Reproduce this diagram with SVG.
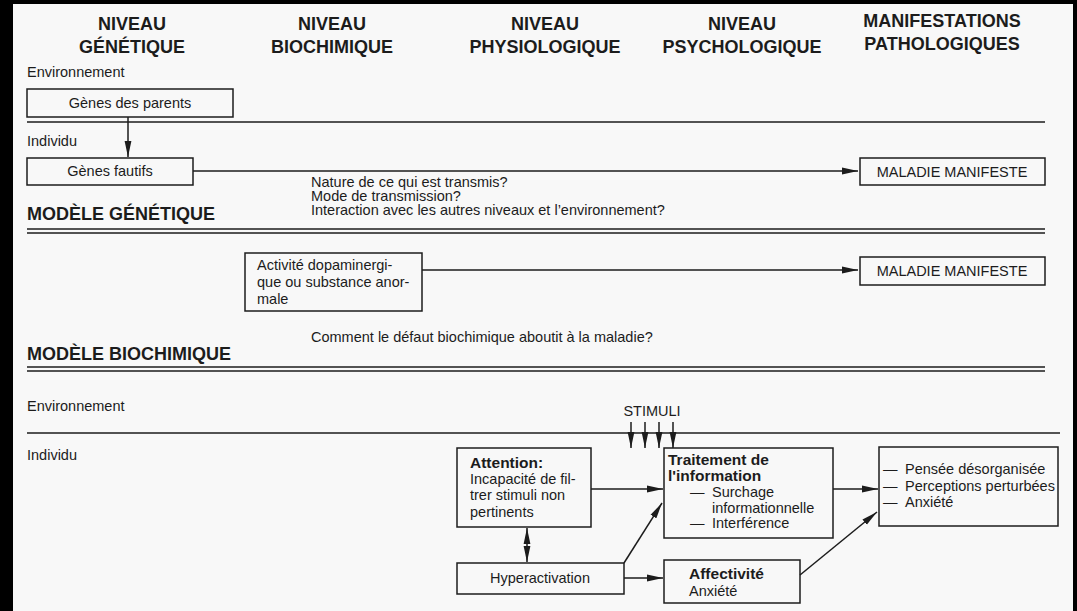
<svg xmlns="http://www.w3.org/2000/svg" width="1077" height="611" viewBox="0 0 1077 611">
  <defs>
    <marker id="ah" markerWidth="16" markerHeight="8" refX="16" refY="4" orient="auto-start-reverse" markerUnits="userSpaceOnUse">
      <path d="M0,0.6 L16,4 L0,7.4 z" fill="#1c1c1c"/>
    </marker>
  </defs>
  <style>
    .t{font-family:"Liberation Sans",Arial,Helvetica,sans-serif;font-size:14.5px;fill:#1c1c1c}
    .b{font-weight:bold;font-size:15.5px}
    .h{font-family:"Liberation Sans",Arial,Helvetica,sans-serif;font-size:18px;font-weight:bold;fill:#1c1c1c;text-anchor:middle}
    .m{font-family:"Liberation Sans",Arial,Helvetica,sans-serif;font-size:18px;font-weight:bold;fill:#1c1c1c}
    .c{text-anchor:middle}
    .box{fill:none;stroke:#1c1c1c;stroke-width:1.5}
    .ln{fill:none;stroke:#1c1c1c;stroke-width:1.5}
    .ar{fill:none;stroke:#1c1c1c;stroke-width:1.5;marker-end:url(#ah)}
    .ar2{fill:none;stroke:#1c1c1c;stroke-width:1.5;marker-end:url(#ah);marker-start:url(#ah)}
  </style>

  <!-- page and frame -->
  <rect x="0" y="0" width="1077" height="611" fill="#f8f8f8"/>
  <rect x="0" y="0" width="13" height="611" fill="#000"/>
  <rect x="0" y="0" width="1077" height="4" fill="#000"/>
  <rect x="1073" y="0" width="4" height="611" fill="#000"/>

  <!-- column headings -->
  <g id="headings">
    <text class="h" x="132" y="30">NIVEAU</text>
    <text class="h" x="132" y="53">GÉNÉTIQUE</text>
    <text class="h" x="332" y="30">NIVEAU</text>
    <text class="h" x="332" y="53">BIOCHIMIQUE</text>
    <text class="h" x="545" y="30">NIVEAU</text>
    <text class="h" x="545" y="53">PHYSIOLOGIQUE</text>
    <text class="h" x="742" y="30">NIVEAU</text>
    <text class="h" x="742" y="53">PSYCHOLOGIQUE</text>
    <text class="h" x="942" y="27">MANIFESTATIONS</text>
    <text class="h" x="942" y="50">PATHOLOGIQUES</text>
  </g>

  <!-- section rules and labels -->
  <g id="rules">
    <line class="ln" x1="27" y1="122" x2="1045" y2="122"/>
    <line class="ln" x1="27" y1="229" x2="1045" y2="229"/>
    <line class="ln" x1="27" y1="233" x2="1045" y2="233"/>
    <line class="ln" x1="27" y1="367" x2="1045" y2="367"/>
    <line class="ln" x1="27" y1="371" x2="1045" y2="371"/>
    <line class="ln" x1="27" y1="433" x2="1060" y2="433"/>
  </g>
  <g id="labels">
    <text class="t" x="27" y="77">Environnement</text>
    <text class="t" x="27" y="146">Individu</text>
    <text class="t" x="311" y="187">Nature de ce qui est transmis?</text>
    <text class="t" x="311" y="201">Mode de transmission?</text>
    <text class="t" x="311" y="215">Interaction avec les autres niveaux et l’environnement?</text>
    <text class="m" x="27" y="220">MODÈLE GÉNÉTIQUE</text>
    <text class="t" x="311" y="342">Comment le défaut biochimique aboutit à la maladie?</text>
    <text class="m" x="27" y="360">MODÈLE BIOCHIMIQUE</text>
    <text class="t" x="27" y="411">Environnement</text>
    <text class="t" x="27" y="460">Individu</text>
    <text class="t c" x="652" y="416">STIMULI</text>
  </g>

  <!-- genetic model -->
  <g id="genes-parents">
    <rect class="box" x="27" y="89" width="206" height="28"/>
    <text class="t c" x="130" y="108">Gènes des parents</text>
  </g>
  <g id="genes-fautifs">
    <rect class="box" x="27" y="158" width="166" height="27"/>
    <text class="t c" x="110" y="176">Gènes fautifs</text>
  </g>
  <g id="maladie-1">
    <rect class="box" x="860" y="158" width="185" height="27"/>
    <text class="t c" x="952" y="177">MALADIE MANIFESTE</text>
  </g>

  <!-- biochemical model -->
  <g id="activite">
    <rect class="box" x="245" y="253" width="177" height="58"/>
    <text class="t" x="257" y="270">Activité dopaminergi-</text>
    <text class="t" x="257" y="287">que ou substance anor-</text>
    <text class="t" x="257" y="304">male</text>
  </g>
  <g id="maladie-2">
    <rect class="box" x="860" y="257" width="185" height="28"/>
    <text class="t c" x="952" y="276">MALADIE MANIFESTE</text>
  </g>

  <!-- psychological model -->
  <g id="attention">
    <rect class="box" x="457" y="448" width="134" height="79"/>
    <text class="t b" x="470" y="468">Attention:</text>
    <text class="t" x="470" y="484">Incapacité de fil-</text>
    <text class="t" x="470" y="500">trer stimuli non</text>
    <text class="t" x="470" y="517">pertinents</text>
  </g>
  <g id="traitement">
    <rect class="box" x="664" y="448" width="169" height="90"/>
    <text class="t b" x="668" y="465">Traitement de</text>
    <text class="t b" x="668" y="481">l'information</text>
    <text class="t" x="690" y="497">—</text>
    <text class="t" x="712" y="497">Surchage</text>
    <text class="t" x="712" y="513">informationnelle</text>
    <text class="t" x="690" y="528">—</text>
    <text class="t" x="712" y="528">Interférence</text>
  </g>
  <g id="manifestations">
    <rect class="box" x="879" y="447" width="179" height="79"/>
    <text class="t" x="883" y="474">—</text>
    <text class="t" x="905" y="474">Pensée désorganisée</text>
    <text class="t" x="883" y="491">—</text>
    <text class="t" x="905" y="491">Perceptions perturbées</text>
    <text class="t" x="883" y="507">—</text>
    <text class="t" x="905" y="507">Anxiété</text>
  </g>
  <g id="hyperactivation">
    <rect class="box" x="457" y="563" width="167" height="31"/>
    <text class="t c" x="540" y="583">Hyperactivation</text>
  </g>
  <g id="affectivite">
    <rect class="box" x="664" y="560" width="136" height="43"/>
    <text class="t b" x="689" y="579">Affectivité</text>
    <text class="t" x="689" y="596">Anxiété</text>
  </g>

  <!-- connectors -->
  <g id="connectors">
    <line class="ar" x1="128" y1="117" x2="128" y2="157"/>
    <line class="ar" x1="193" y1="171" x2="858" y2="171"/>
    <line class="ar" x1="422" y1="270" x2="858" y2="270"/>
    <line class="ar" x1="631" y1="422" x2="631" y2="448"/>
    <line class="ar" x1="645" y1="422" x2="645" y2="448"/>
    <line class="ar" x1="659" y1="422" x2="659" y2="448"/>
    <line class="ar" x1="673" y1="422" x2="673" y2="448"/>
    <line class="ar" x1="591" y1="489" x2="663" y2="489"/>
    <line class="ar" x1="624" y1="563" x2="662" y2="503"/>
    <line class="ar" x1="624" y1="578" x2="663" y2="578"/>
    <line class="ar" x1="833" y1="489" x2="878" y2="489"/>
    <line class="ar" x1="800" y1="575" x2="877" y2="512"/>
    <line class="ar2" x1="527" y1="528" x2="527" y2="562"/>
  </g>
</svg>
